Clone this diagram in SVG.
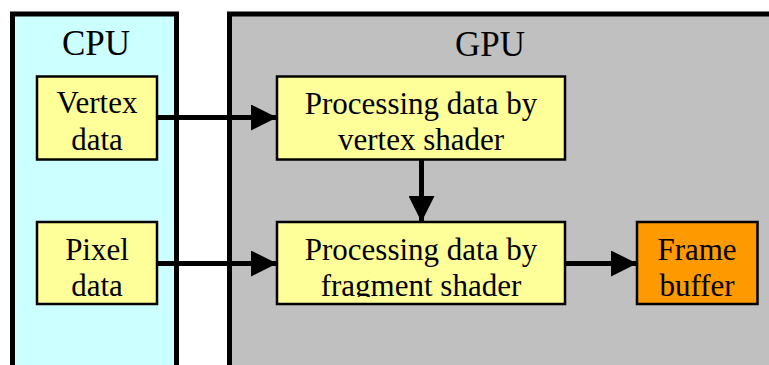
<svg xmlns="http://www.w3.org/2000/svg" width="769" height="365" viewBox="0 0 769 365">
<style>
text{font-family:"Liberation Serif","Times New Roman",serif;fill:#000;text-anchor:middle}
.title{font-size:35px}
.lbl{font-size:31px}
.box{fill:#FFFF99;stroke:#000;stroke-width:2.5}
.fb{fill:#FF9900;stroke:#000;stroke-width:2.5}
.conn{stroke:#000;stroke-width:5;fill:none}
</style>
<defs>
<marker id="ah" viewBox="0 0 26 26" refX="26" refY="13" markerWidth="26" markerHeight="26" markerUnits="userSpaceOnUse" orient="auto">
<path d="M0,0 L26,13 L0,26 Z" fill="#000"/>
</marker>
<clipPath id="lowclip"><rect x="0" y="0" width="769" height="297"/></clipPath>
</defs>
<g id="cpu">
<rect x="12.5" y="14" width="164" height="380" fill="#CCFFFF" stroke="#000" stroke-width="5"/>
<text class="title" x="96" y="55">CPU</text>
</g>
<g id="gpu">
<rect x="229.5" y="14" width="580" height="380" fill="#C0C0C0" stroke="#000" stroke-width="5"/>
<text class="title" x="490" y="56">GPU</text>
</g>
<g id="connectors">
<line class="conn" x1="157" y1="117.5" x2="277" y2="117.5" marker-end="url(#ah)"/>
<line class="conn" x1="157" y1="263.5" x2="277" y2="263.5" marker-end="url(#ah)"/>
<line class="conn" x1="421.5" y1="160" x2="421.5" y2="222" marker-end="url(#ah)"/>
<line class="conn" x1="565" y1="263.5" x2="637" y2="263.5" marker-end="url(#ah)"/>
</g>
<g id="vertex-data">
<rect class="box" x="37" y="76.5" width="120" height="83"/>
<text class="lbl" x="97" y="113">Vertex</text>
<text class="lbl" x="97" y="150">data</text>
</g>
<g id="pixel-data">
<rect class="box" x="37" y="222" width="120" height="82"/>
<g clip-path="url(#lowclip)">
<text class="lbl" x="97" y="260">Pixel</text>
<text class="lbl" x="97" y="296">data</text>
</g>
</g>
<g id="vertex-shader">
<rect class="box" x="277" y="76.5" width="288" height="83"/>
<text class="lbl" x="421" y="114">Processing data by</text>
<text class="lbl" x="421" y="150">vertex shader</text>
</g>
<g id="fragment-shader">
<rect class="box" x="277" y="222" width="288" height="82"/>
<g clip-path="url(#lowclip)">
<text class="lbl" x="421" y="260">Processing data by</text>
<text class="lbl" x="421" y="296">fragment shader</text>
</g>
</g>
<g id="frame-buffer">
<rect class="fb" x="637" y="222" width="120.5" height="82"/>
<g clip-path="url(#lowclip)">
<text class="lbl" x="697" y="260">Frame</text>
<text class="lbl" x="697" y="296">buffer</text>
</g>
</g>
</svg>
